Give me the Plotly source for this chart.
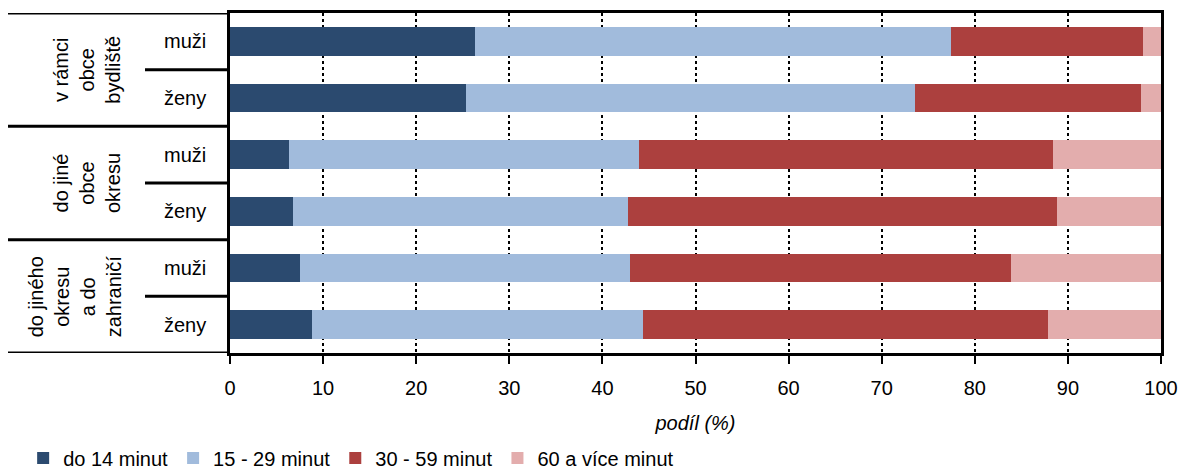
import plotly.graph_objects as go

# ---- data ----
groups = ["v rámci<br>obce<br>bydliště", "do jiné<br>obce<br>okresu", "do jiného<br>okresu<br>a do<br>zahraničí"]
sexes = ["muži", "ženy", "muži", "ženy", "muži", "ženy"]
series_names = ["do 14 minut", "15 - 29 minut", "30 - 59 minut", "60 a více minut"]
s_do14 = [26.3, 25.3, 6.3, 6.8, 7.5, 8.8]
s_15_29 = [51.1, 48.3, 37.6, 36.0, 35.5, 35.6]
s_30_59 = [20.7, 24.3, 44.5, 46.0, 40.9, 43.5]
s_60 = [1.9, 2.1, 11.6, 11.2, 16.1, 12.1]
x_ticks = [0, 10, 20, 30, 40, 50, 60, 70, 80, 90, 100]
x_title = "podíl (%)"

colors = ["#2B4A6F", "#A1BBDC", "#AC403E", "#E3ADAD"]
FONT = "Liberation Sans, Arial, sans-serif"
FS = 20

W, H = 1181, 470
ML, MR, MT, MB = 230, 20, 13, 117
PW = W - ML - MR
PH = H - MT - MB

def px2paper(px):
    return (px - ML) / PW

def py2paper(py):
    return (H - MB - py) / PH

rows = list(range(len(sexes)))

fig = go.Figure()
for name, vals, col in zip(series_names, [s_do14, s_15_29, s_30_59, s_60], colors):
    fig.add_trace(go.Bar(
        x=vals, y=rows, orientation="h", name=name,
        marker=dict(color=col, line=dict(width=0)),
        hoverinfo="x+name",
    ))

# sex labels
annotations = []
for i, s in enumerate(sexes):
    annotations.append(dict(
        x=px2paper(185), xref="paper", y=i, yref="y", text=s, showarrow=False,
        xanchor="center", yanchor="middle", font=dict(family=FONT, size=FS, color="#000"),
    ))
# group labels (rotated)
group_centers_px = [87, 87, 75]
for g, (label, cx) in enumerate(zip(groups, group_centers_px)):
    annotations.append(dict(
        x=px2paper(cx), xref="paper", y=2 * g + 0.5, yref="y", text=label, showarrow=False,
        textangle=-90, xanchor="center", yanchor="middle", align="center",
        font=dict(family=FONT, size=FS, color="#000"),
    ))

# table lines
shapes = []
left_px = 8
for b in [-0.5, 1.5, 3.5, 5.5]:
    shapes.append(dict(type="line", xref="paper", yref="y", x0=px2paper(left_px), x1=0, y0=b, y1=b,
                       line=dict(color="#000", width=3), layer="above"))
for b in [0.5, 2.5, 4.5]:
    shapes.append(dict(type="line", xref="paper", yref="y", x0=px2paper(145), x1=0, y0=b, y1=b,
                       line=dict(color="#000", width=3), layer="above"))

fig.update_layout(
    width=W, height=H, autosize=False,
    margin=dict(l=ML, r=MR, t=MT, b=MB, pad=0, autoexpand=False),
    barmode="stack", bargap=0.49,
    plot_bgcolor="white", paper_bgcolor="white",
    font=dict(family=FONT, size=FS, color="#000"),
    xaxis=dict(
        range=[0, 100], tickvals=x_ticks, ticktext=[str(v) for v in x_ticks],
        showgrid=True, gridcolor="#000", gridwidth=1.5, griddash="dot",
        showline=True, linecolor="#000", linewidth=3, mirror=True,
        ticks="outside", ticklen=8, tickwidth=2, tickcolor="#000",
        ticklabelstandoff=7, automargin=False,
        zeroline=False,
        title=dict(text="<i>" + x_title + "</i>", standoff=18, font=dict(family=FONT, size=FS)),
        tickfont=dict(family=FONT, size=FS),
    ),
    yaxis=dict(
        range=[5.5, -0.5], showticklabels=False, ticks="", showgrid=False, zeroline=False,
        showline=True, linecolor="#000", linewidth=3, mirror=True, automargin=False,
    ),
    legend=dict(
        orientation="h", xref="container", yref="paper", x=0.0196, y=py2paper(458),
        xanchor="left", yanchor="middle",
        font=dict(family=FONT, size=FS), traceorder="normal", itemwidth=30,
        bgcolor="rgba(0,0,0,0)",
    ),
    annotations=annotations,
    shapes=shapes,
)

fig.write_html("out.html", config={"displayModeBar": False},
               post_script="document.body.style.margin='0';document.body.style.overflow='hidden';")
